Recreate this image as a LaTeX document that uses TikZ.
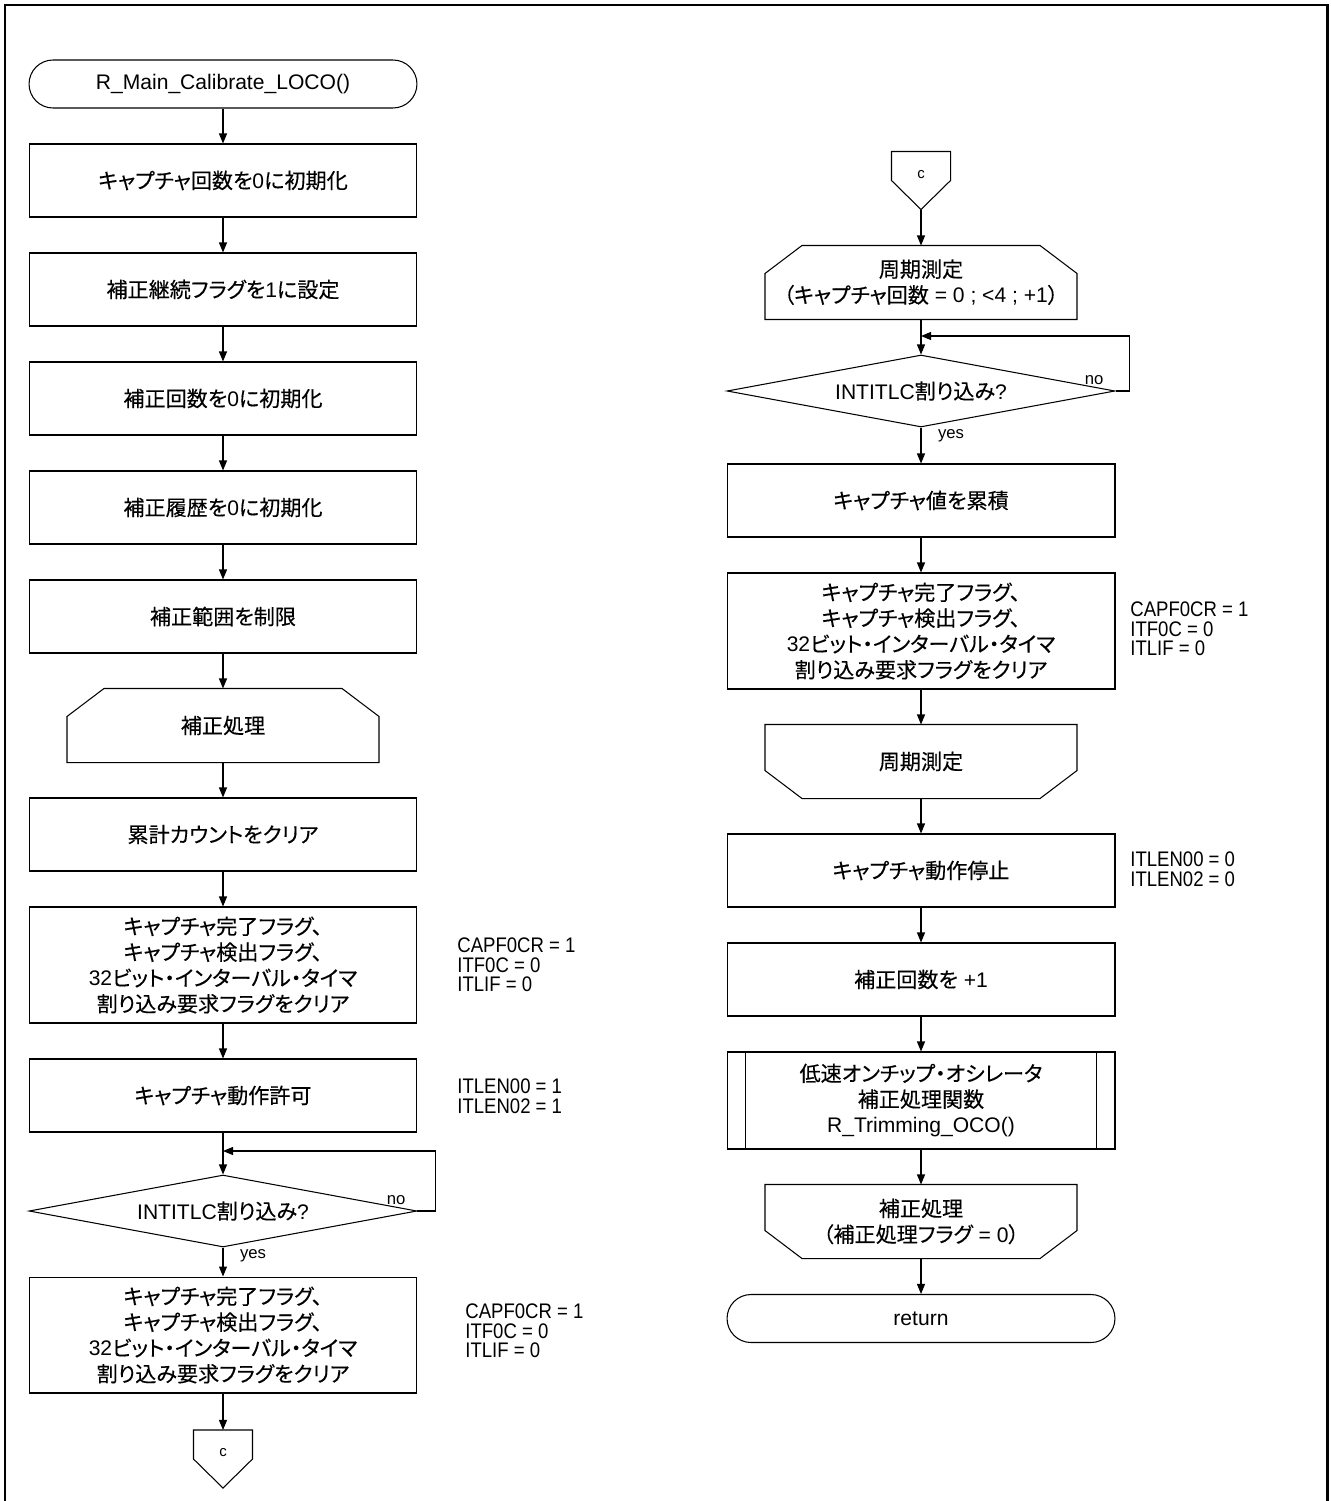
\documentclass[tikz,border=0pt]{standalone}
\usepackage{fontspec}
\setmainfont{Liberation Sans}
\newfontfamily\jp[RawFeature=+palt, FakeBold=0.3]{Noto Sans CJK JP}
\newfontfamily\narrow[FakeStretch=0.88]{Liberation Sans}
\usetikzlibrary{shapes.geometric,arrows.meta}
\newcommand\fs{\fontsize{12}{14.7}\selectfont}
\newcommand\J[1]{{\jp #1}}
\def\cx{0.74cm}    % chamfer width
\def\cy{0.56cm}    % chamfer height
\def\barin{0.38cm} % sub-process bar inset
\tikzstyle{base}=[draw, line width=0.6pt, inner sep=0pt, align=center, font=\fs]
\tikzstyle{proc}=[base, minimum width=7.76cm, minimum height=1.46cm]
\tikzstyle{proc4}=[proc, minimum height=2.32cm]
\tikzstyle{subr}=[proc, minimum height=1.94cm]
\tikzstyle{term}=[base, minimum width=7.76cm, minimum height=0.96cm, rounded corners=0.48cm]
\tikzstyle{hexa}=[base, draw=none, minimum width=6.22cm, minimum height=1.46cm]
\tikzstyle{dec}=[base, diamond, aspect=5.4, minimum width=7.76cm, minimum height=1.44cm]
\tikzstyle{conn}=[base, draw=none, minimum width=1.16cm, minimum height=1.14cm,
                  font=\fontsize{8.5}{9}\selectfont, text height=0.2cm, text depth=0.3cm]
\tikzstyle{flow}=[line width=0.6pt, -{Triangle[length=0.2cm,width=0.16cm]}]
\newcommand\looptop[1]{\draw[line width=0.6pt] (#1.south west) -- ([yshift=-\cy]#1.north west)
   -- ([xshift=\cx]#1.north west) -- ([xshift=-\cx]#1.north east)
   -- ([yshift=-\cy]#1.north east) -- (#1.south east) -- cycle;}
\newcommand\loopend[1]{\draw[line width=0.6pt] (#1.north west) -- ([yshift=\cy]#1.south west)
   -- ([xshift=\cx]#1.south west) -- ([xshift=-\cx]#1.south east)
   -- ([yshift=\cy]#1.south east) -- (#1.north east) -- cycle;}
\newcommand\offpage[1]{\draw[line width=0.6pt] (#1.north west) -- (#1.north east)
   -- (#1.east) -- (#1.south) -- (#1.west) -- cycle;}
\newcommand\subbars[1]{\draw[line width=0.6pt] ([xshift=\barin]#1.north west) -- ([xshift=\barin]#1.south west)
   ([xshift=-\barin]#1.north east) -- ([xshift=-\barin]#1.south east);}

\begin{document}
\begin{tikzpicture}[x=0.02cm, y=-0.02cm,
                    lab/.style = {inner sep=1pt, font=\fontsize{9.5}{11}\selectfont},
                    note/.style = {anchor=west, align=left, inner sep=0pt,
                              font=\narrow\fontsize{12}{11.2}\selectfont}
               ]
               \useasboundingbox (0,0) rectangle (1330,1501);
               \draw[line width=1.7pt] (5,1501) |- (1327,5) -- (1327,1501);

               % left column
               \node[term]  (t0) at (223,84)    {R\_Main\_Calibrate\_LOCO()};
               \node[proc]  (p1) at (223,180.5) {\J{キャプチャ回数を}0\J{に初期化}};
               \node[proc]  (p2) at (223,289.5) {\J{補正継続フラグを}1\J{に設定}};
               \node[proc]  (p3) at (223,398.5) {\J{補正回数を}0\J{に初期化}};
               \node[proc]  (p4) at (223,507.5) {\J{補正履歴を}0\J{に初期化}};
               \node[proc]  (p5) at (223,616.5) {\J{補正範囲を制限}};
               \node[hexa]  (h1) at (223,725.5) {\J{補正処理}};
               \node[proc]  (p6) at (223,834.5) {\J{累計カウントをクリア}};
               \node[proc4] (p7) at (223,965)   {\J{キャプチャ完了フラグ、}\\\J{キャプチャ検出フラグ、}\\
                                                 32\J{ビット・インターバル・タイマ}\\\J{割り込み要求フラグをクリア}};
               \node[proc]  (p8) at (223,1095.5) {\J{キャプチャ動作許可}};
               \node[dec]   (d1) at (223,1211)  {INTITLC\J{割り込み}?};
               \node[proc4] (p9) at (223,1335)  {\J{キャプチャ完了フラグ、}\\\J{キャプチャ検出フラグ、}\\
                                                 32\J{ビット・インターバル・タイマ}\\\J{割り込み要求フラグをクリア}};
               \node[conn]  (c1) at (223,1459)  {c};
               \coordinate (lpL) at (223,1151);

               \node[note] (n1) at (457,965)  {CAPF0CR = 1\\ITF0C = 0\\ITLIF = 0};
               \node[note] (n2) at (457,1096) {ITLEN00 = 1\\ITLEN02 = 1};
               \node[note] (n3) at (465,1331) {CAPF0CR = 1\\ITF0C = 0\\ITLIF = 0};

               % right column
               \node[conn]  (c2) at (921,180.5) {c};
               \node[hexa]  (h2) at (921,282.5) {\J{周期測定}\\\J{（キャプチャ回数} = 0 ; <4 ; +1\J{）}};
               \node[dec]   (d2) at (921,391)   {INTITLC\J{割り込み}?};
               \node[proc]  (r1) at (921,500.5) {\J{キャプチャ値を累積}};
               \node[proc4] (r2) at (921,631)   {\J{キャプチャ完了フラグ、}\\\J{キャプチャ検出フラグ、}\\
                                                 32\J{ビット・インターバル・タイマ}\\\J{割り込み要求フラグをクリア}};
               \node[hexa]  (h3) at (921,761.5) {\J{周期測定}};
               \node[proc]  (r3) at (921,870.5) {\J{キャプチャ動作停止}};
               \node[proc]  (r4) at (921,979.5) {\J{補正回数を} +1};
               \node[subr]  (r5) at (921,1100.5) {\J{低速オンチップ・オシレータ}\\\J{補正処理関数}\\R\_Trimming\_OCO()};
               \node[hexa]  (h4) at (921,1221.5) {\J{補正処理}\\\J{（補正処理フラグ} = 0\J{）}};
               \node[term]  (t1) at (921,1318.5) {return};
               \coordinate (lpR) at (921,336);

               \node[note] (n4) at (1130,629) {CAPF0CR = 1\\ITF0C = 0\\ITLIF = 0};
               \node[note] (n5) at (1130,869) {ITLEN00 = 0\\ITLEN02 = 0};

               % shapes drawn round the nodes
               \looptop{h1} \looptop{h2}
               \loopend{h3} \loopend{h4}
               \offpage{c1} \offpage{c2}
               \subbars{r5}

               % flow
               \foreach \a/\b in {t0/p1,p1/p2,p2/p3,p3/p4,p4/p5,p5/h1,h1/p6,p6/p7,p7/p8,p8/d1,d1/p9,p9/c1,
                                  c2/h2,h2/d2,d2/r1,r1/r2,r2/h3,h3/r3,r3/r4,r4/r5,r5/h4,h4/t1}
                    \draw[flow] (\a) -- (\b);
               \draw[flow] (d1.east) -- ++(0.36cm,0) |- (lpL);
               \draw[flow] (d2.east) -- ++(0.28cm,0) |- (lpR);

               \node[lab, anchor=south east] (noL) at ([xshift=-0.2cm,yshift=0.08cm]d1.east) {no};
               \node[lab, anchor=north west] (yesL) at ([xshift=0.3cm]d1.south) {yes};
               \node[lab, anchor=south east] (noR) at ([xshift=-0.2cm,yshift=0.08cm]d2.east) {no};
               \node[lab, anchor=north west] (yesR) at ([xshift=0.3cm]d2.south) {yes};
          \end{tikzpicture}
\end{document}
